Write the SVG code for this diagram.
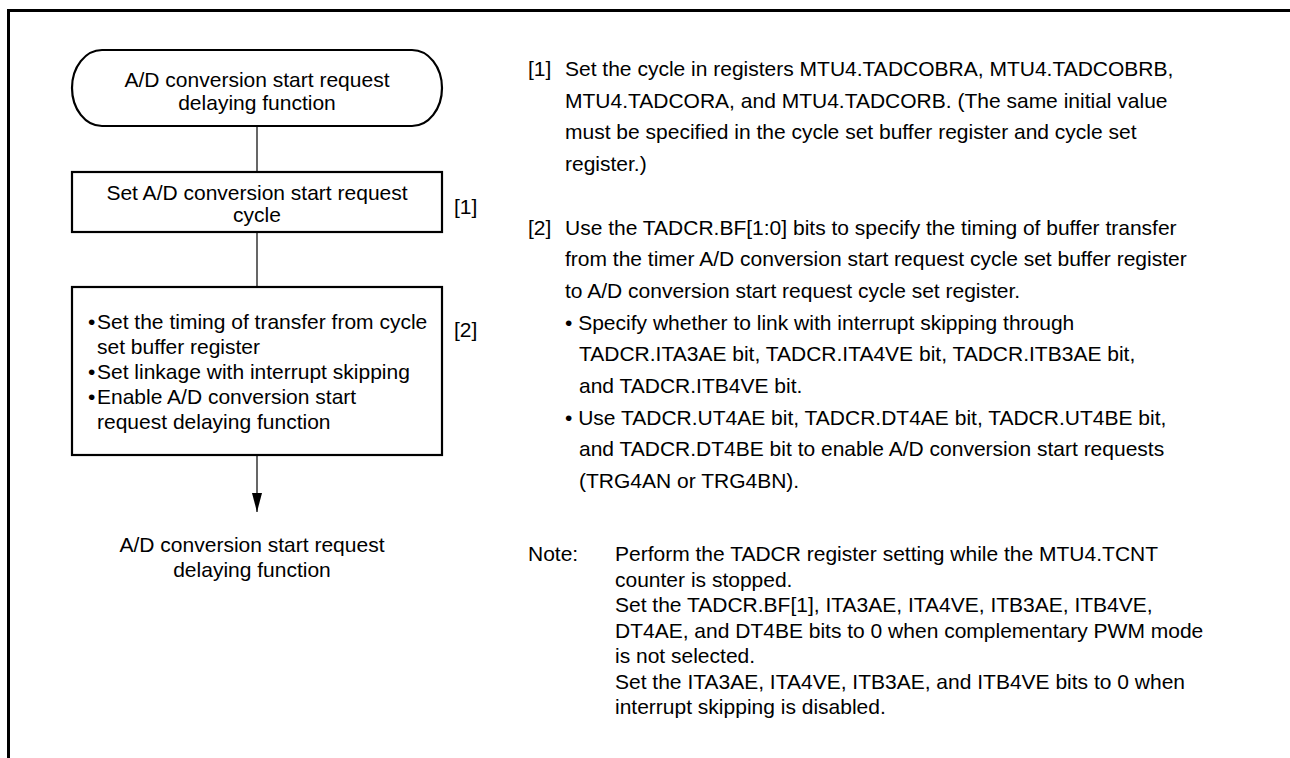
<svg xmlns="http://www.w3.org/2000/svg" width="1290" height="758" viewBox="0 0 1290 758">
<style>
text{font-family:"Liberation Sans",Arial,Helvetica,sans-serif;font-size:21px;fill:#000}
.c{text-anchor:middle}
.shape{fill:#fff;stroke:#000;stroke-width:2.2}
.conn{stroke:#000;stroke-width:1.2;fill:none}
.frame{stroke:#000;stroke-width:3;fill:none}
</style>
<defs>
<marker id="arr" markerWidth="19" markerHeight="10" refX="19" refY="5" orient="auto" markerUnits="userSpaceOnUse" viewBox="0 0 19 10">
<path d="M0,0 L19,5 L0,10 Z" fill="#000"/>
</marker>
</defs>
<path class="frame" d="M8.5,758 V10.5 H1290"/>
<g id="connectors">
<line class="conn" x1="257" y1="126" x2="257" y2="172"/>
<line class="conn" x1="257" y1="232" x2="257" y2="287"/>
<line class="conn" x1="257" y1="455" x2="257" y2="512" marker-end="url(#arr)"/>
</g>
<g id="start">
<rect class="shape" x="72" y="50" width="370" height="76" rx="30" ry="38"/>
<text class="c" x="257" y="87">A/D conversion start request</text>
<text class="c" x="257" y="110">delaying function</text>
</g>
<g id="step1">
<rect class="shape" x="72" y="172" width="370" height="60"/>
<text class="c" x="257" y="200">Set A/D conversion start request</text>
<text class="c" x="257" y="222">cycle</text>
<text x="454" y="214">[1]</text>
</g>
<g id="step2">
<rect class="shape" x="72" y="287" width="370" height="168"/>
<text x="88" y="329">•</text><text x="97" y="329">Set the timing of transfer from cycle</text>
<text x="97" y="354">set buffer register</text>
<text x="88" y="379">•</text><text x="97" y="379">Set linkage with interrupt skipping</text>
<text x="88" y="404">•</text><text x="97" y="404">Enable A/D conversion start</text>
<text x="97" y="429">request delaying function</text>
<text x="454" y="337">[2]</text>
</g>
<g id="end">
<text class="c" x="252" y="552">A/D conversion start request</text>
<text class="c" x="252" y="577">delaying function</text>
</g>
<g id="notes">
<text x="528" y="76">[1]</text>
<text x="565" y="76">Set the cycle in registers MTU4.TADCOBRA, MTU4.TADCOBRB,</text>
<text x="565" y="107.7">MTU4.TADCORA, and MTU4.TADCORB. (The same initial value</text>
<text x="565" y="139.4">must be specified in the cycle set buffer register and cycle set</text>
<text x="565" y="171">register.)</text>
<text x="528" y="234.5">[2]</text>
<text x="565" y="234.5">Use the TADCR.BF[1:0] bits to specify the timing of buffer transfer</text>
<text x="565" y="266">from the timer A/D conversion start request cycle set buffer register</text>
<text x="565" y="298">to A/D conversion start request cycle set register.</text>
<text x="565" y="329.6">• Specify whether to link with interrupt skipping through</text>
<text x="579" y="361">TADCR.ITA3AE bit, TADCR.ITA4VE bit, TADCR.ITB3AE bit,</text>
<text x="579" y="393">and TADCR.ITB4VE bit.</text>
<text x="565" y="424.7">• Use TADCR.UT4AE bit, TADCR.DT4AE bit, TADCR.UT4BE bit,</text>
<text x="579" y="456">and TADCR.DT4BE bit to enable A/D conversion start requests</text>
<text x="579" y="488">(TRG4AN or TRG4BN).</text>
<text x="528" y="561">Note:</text>
<text x="615" y="561">Perform the TADCR register setting while the MTU4.TCNT</text>
<text x="615" y="586.5">counter is stopped.</text>
<text x="615" y="612">Set the TADCR.BF[1], ITA3AE, ITA4VE, ITB3AE, ITB4VE,</text>
<text x="615" y="637.5">DT4AE, and DT4BE bits to 0 when complementary PWM mode</text>
<text x="615" y="663">is not selected.</text>
<text x="615" y="688.5">Set the ITA3AE, ITA4VE, ITB3AE, and ITB4VE bits to 0 when</text>
<text x="615" y="714">interrupt skipping is disabled.</text>
</g>
</svg>
